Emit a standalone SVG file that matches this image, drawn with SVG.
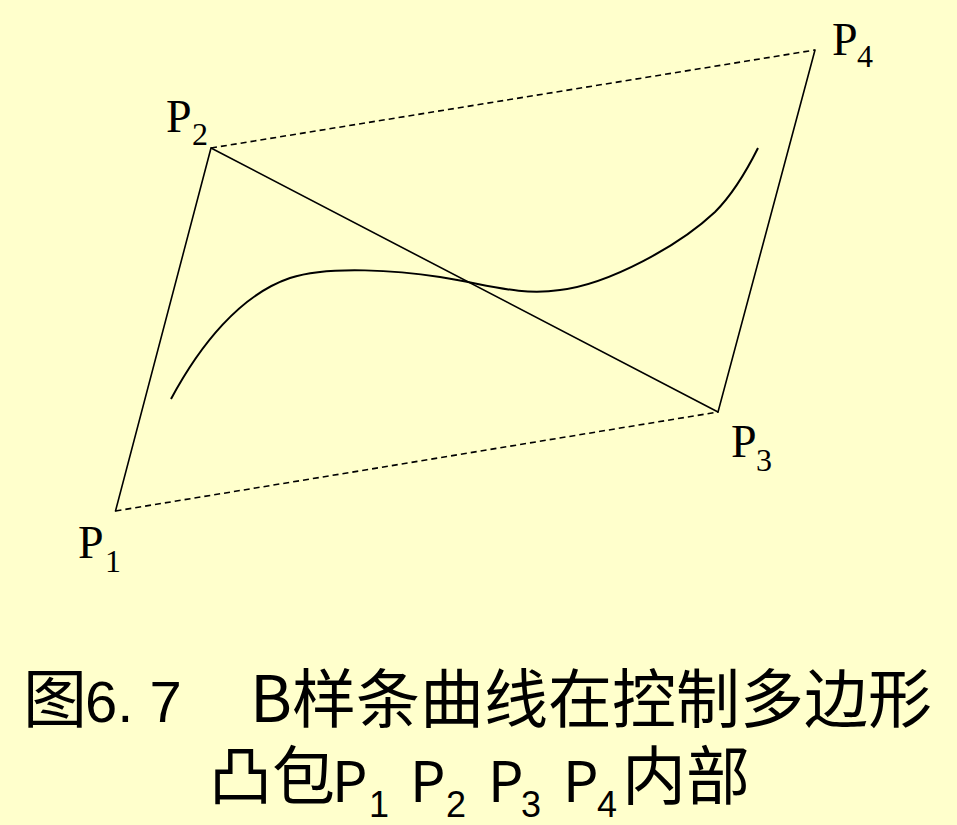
<svg xmlns="http://www.w3.org/2000/svg" width="957" height="825" viewBox="0 0 957 825">
  <style>
    .edge { stroke: #000; stroke-width: 1.6; fill: none; stroke-linecap: round; }
    .dash { stroke-dasharray: 6 4; stroke-linecap: butt; }
    .curve { stroke: #000; stroke-width: 2; fill: none; }
    .lbl { font-family: "Liberation Serif", "Times New Roman", serif; fill: #000; }
    .big { font-size: 46px; }
    .sub { font-size: 32px; }
    .cjk { font-family: "Noto Sans CJK SC", "Noto Sans", sans-serif; font-size: 64px; fill: #000; }
    .lat { font-family: "Liberation Sans", Arial, sans-serif; fill: #000; }
    .capP { font-family: "Noto Sans CJK SC", "Noto Sans", sans-serif; font-size: 56px; fill: #000; }
    .capS { font-size: 36px; }
  </style>
  <rect x="0" y="0" width="957" height="825" fill="#FFFFCC"/>

  <g id="connectors">
    <line class="edge" x1="115.5" y1="511" x2="211" y2="148"/>
    <line class="edge" x1="211" y1="148" x2="718" y2="412"/>
    <line class="edge" x1="718" y1="412" x2="815" y2="50"/>
    <line class="edge dash" x1="115.5" y1="511" x2="718" y2="412"/>
    <line class="edge dash" x1="211" y1="148" x2="815" y2="50"/>
  </g>

  <g id="bspline-curve">
    <path class="curve" d="M171,399 C200,345 240,295 290,278 C330,265 400,271 440,277 C490,285 520,296 560,290 C610,284 680,245 715,212 C735,192 748,168 758,148"/>
  </g>

  <g id="P1">
    <text class="lbl big" x="78" y="558">P</text>
    <text class="lbl sub" x="105" y="572">1</text>
  </g>
  <g id="P2">
    <text class="lbl big" x="166" y="132">P</text>
    <text class="lbl sub" x="192" y="145">2</text>
  </g>
  <g id="P3">
    <text class="lbl big" x="731" y="457">P</text>
    <text class="lbl sub" x="756" y="471">3</text>
  </g>
  <g id="P4">
    <text class="lbl big" x="832" y="55">P</text>
    <text class="lbl sub" x="857" y="67">4</text>
  </g>

  <g id="caption">
    <text class="cjk" x="23" y="722">图</text>
    <text class="lat" x="85" y="722" style="font-size:58px">6. 7</text>
    <text class="cjk" x="250" y="722" textLength="682" lengthAdjust="spacingAndGlyphs">B样条曲线在控制多边形</text>

    <text class="cjk" x="209" y="799" textLength="126" lengthAdjust="spacingAndGlyphs">凸包</text>
    <text class="capP" x="332" y="802">P</text>
    <text class="lat capS" x="369" y="817">1</text>
    <text class="capP" x="410" y="802">P</text>
    <text class="lat capS" x="446" y="817">2</text>
    <text class="capP" x="488" y="802">P</text>
    <text class="lat capS" x="521" y="817">3</text>
    <text class="capP" x="563" y="802">P</text>
    <text class="lat capS" x="597" y="817">4</text>
    <text class="cjk" x="622" y="799" textLength="128" lengthAdjust="spacingAndGlyphs">内部</text>
  </g>
</svg>
